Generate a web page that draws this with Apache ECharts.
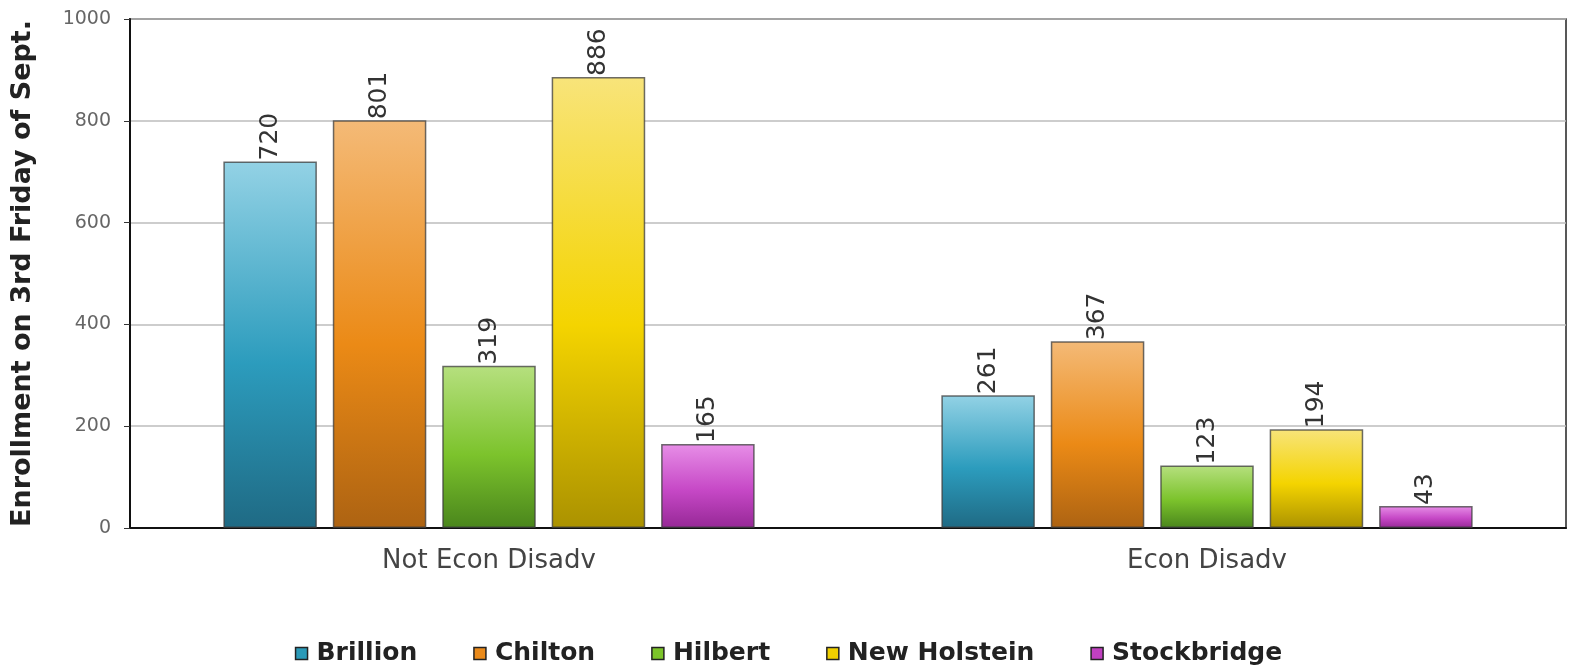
<!DOCTYPE html>
<html>
<head>
<meta charset="utf-8">
<title>Enrollment by Economic Status</title>
<script src="https://cdn.jsdelivr.net/npm/echarts@6/dist/echarts.min.js"></script>
<style>
  html, body { margin: 0; padding: 0; background: #fff; }
  #chart { width: 1577px; height: 671px; }
</style>
</head>
<body>
<div id="chart"></div>
<script>
// Enrollment on the 3rd Friday of September, by economic status and district
const categories = ['Not Econ Disadv', 'Econ Disadv'];
const districts = ['Brillion', 'Chilton', 'Hilbert', 'New Holstein', 'Stockbridge'];
const brillion = [720, 261];
const chilton = [801, 367];
const hilbert = [319, 123];
const newHolstein = [886, 194];
const stockbridge = [165, 43];
const yTicks = [0, 200, 400, 600, 800, 1000];

const seriesValues = [brillion, chilton, hilbert, newHolstein, stockbridge];

// light top -> saturated middle -> dark bottom, per district
const palettes = [
  { top: '#93d2e5', mid: '#2c9cbd', bottom: '#1f6a84', solid: '#2b9ab8' },
  { top: '#f4ba77', mid: '#eb8a16', bottom: '#ad6312', solid: '#ea8a1a' },
  { top: '#b6e07f', mid: '#7cc32c', bottom: '#4a861c', solid: '#7cc42a' },
  { top: '#f8e47a', mid: '#f4d400', bottom: '#ab9200', solid: '#f0d000' },
  { top: '#e78ee7', mid: '#c648c6', bottom: '#962896', solid: '#c040c0' }
];

const chart = echarts.init(document.getElementById('chart'));

const series = districts.map((name, i) => ({
  name: name,
  type: 'bar',
  data: seriesValues[i],
  barGap: '17%',
  barCategoryGap: '26%',
  itemStyle: {
    color: new echarts.graphic.LinearGradient(0, 0, 0, 1, [
      { offset: 0, color: palettes[i].top },
      { offset: 0.55, color: palettes[i].mid },
      { offset: 1, color: palettes[i].bottom }
    ]),
    borderColor: 'rgba(60,60,60,0.75)',
    borderWidth: 1.5
  },
  label: {
    show: true,
    position: 'top',
    rotate: 90,
    align: 'left',
    verticalAlign: 'middle',
    distance: 1,
    fontFamily: 'DejaVu Sans',
    fontSize: 25,
    color: '#333'
  }
}));

chart.setOption({
  animation: false,
  backgroundColor: '#fff',
  grid: {
    left: 130, right: 11, top: 19, bottom: 143,
    show: true,
    borderColor: '#222',
    borderWidth: 1.5,
    containLabel: false
  },
  legend: {
    bottom: 0,
    left: 'center',
    itemWidth: 12,
    itemHeight: 12,
    itemGap: 56,
    icon: 'rect',
    textStyle: {
      fontFamily: 'DejaVu Sans',
      fontWeight: 'bold',
      fontSize: 25,
      color: '#222',
      padding: [0, 0, 0, 4]
    },
    data: districts.map((name, i) => ({
      name: name,
      itemStyle: { color: palettes[i].solid, borderColor: '#222', borderWidth: 1.5 }
    }))
  },
  xAxis: {
    type: 'category',
    data: categories,
    axisLine: { lineStyle: { color: '#111', width: 2 } },
    axisTick: { alignWithLabel: true, length: 7, lineStyle: { color: '#333' } },
    axisLabel: {
      fontFamily: 'DejaVu Sans',
      fontSize: 26,
      color: '#444',
      margin: 20
    }
  },
  yAxis: {
    type: 'value',
    min: yTicks[0],
    max: yTicks[yTicks.length - 1],
    interval: yTicks[1] - yTicks[0],
    name: 'Enrollment on 3rd Friday of Sept.',
    nameLocation: 'middle',
    nameGap: 94,
    nameTextStyle: {
      fontFamily: 'DejaVu Sans',
      fontWeight: 'bold',
      fontSize: 27,
      color: '#222'
    },
    axisLine: { show: true, lineStyle: { color: '#111', width: 2 } },
    axisTick: { show: true, length: 6, lineStyle: { color: '#333' } },
    axisLabel: {
      fontFamily: 'DejaVu Sans',
      fontSize: 19,
      color: '#666',
      margin: 19,
      formatter: v => String(v)
    },
    splitLine: { lineStyle: { color: '#bdbdbd', width: 1.5 } }
  },
  series: series
});
</script>
</body>
</html>
